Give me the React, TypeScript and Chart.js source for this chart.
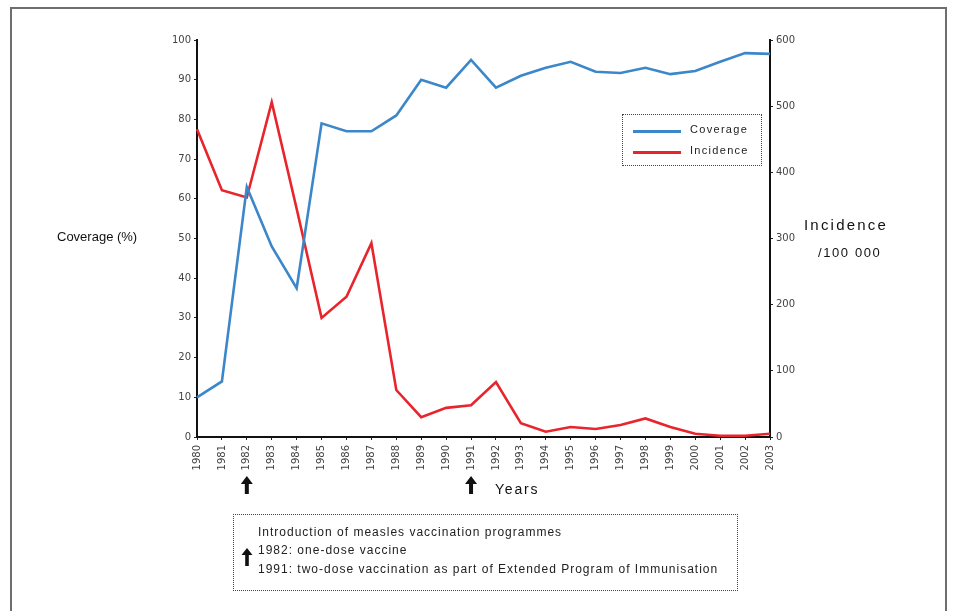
import React, { useEffect, useRef } from "react";
import { Chart, registerables } from "chart.js";

Chart.register(...registerables);

const years = [
  "1980", "1981", "1982", "1983", "1984", "1985", "1986", "1987", "1988", "1989", "1990", "1991",
  "1992", "1993", "1994", "1995", "1996", "1997", "1998", "1999", "2000", "2001", "2002", "2003",
];
const coverage = [10, 14, 63, 48, 37.5, 79, 77, 77, 81, 90, 88, 95, 88, 91, 93, 94.5, 92, 91.7, 93, 91.4, 92.2, 94.5, 96.7, 96.5];
const incidence = [465, 373, 362, 506, 345, 180, 212, 293, 71, 30, 44, 48, 83, 21, 8, 15, 12, 18, 28, 15, 5, 2, 2, 5];
const coverageTicks = [0, 10, 20, 30, 40, 50, 60, 70, 80, 90, 100];
const incidenceTicks = [0, 100, 200, 300, 400, 500, 600];
const arrowYears = ["1982", "1991"];
const seriesNames = ["Coverage", "Incidence"];
const noteLines = [
  "Introduction of measles vaccination programmes",
  "1982: one-dose vaccine",
  "1991: two-dose vaccination as part of Extended Program of Immunisation",
];

const BLUE = "#3b87c9";
const RED = "#e8242c";
const FONT = "'Liberation Sans', Arial, sans-serif";
const TICK_FONT = "'DejaVu Sans', sans-serif";

function drawArrow(ctx: CanvasRenderingContext2D, x: number, top: number) {
  ctx.save();
  ctx.fillStyle = "#111";
  ctx.beginPath();
  ctx.moveTo(x, top);
  ctx.lineTo(x + 6, top + 8);
  ctx.lineTo(x + 2, top + 8);
  ctx.lineTo(x + 2, top + 18);
  ctx.lineTo(x - 2, top + 18);
  ctx.lineTo(x - 2, top + 8);
  ctx.lineTo(x - 6, top + 8);
  ctx.closePath();
  ctx.fill();
  ctx.restore();
}

const arrowPlugin = {
  id: "yearArrows",
  afterDraw(chart: any) {
    const xs = chart.scales.x;
    const ctx = chart.ctx;
    arrowYears.forEach((yr) => {
      const idx = years.indexOf(yr);
      const x = xs.getPixelForValue(idx);
      drawArrow(ctx, x, chart.chartArea.bottom + 39);
    });
  },
};

function ArrowIcon() {
  return (
    <svg width="12" height="18" viewBox="0 0 12 18" style={{ display: "block" }}>
      <path d="M6 0 L11.5 7 L7.8 7 L7.8 18 L4.2 18 L4.2 7 L0.5 7 Z" fill="#111" />
    </svg>
  );
}

export default function App() {
  const canvasRef = useRef<HTMLCanvasElement | null>(null);

  useEffect(() => {
    if (!canvasRef.current) return;
    const tickFont = { family: TICK_FONT, size: 10 };
    const chart = new Chart(canvasRef.current, {
      type: "line",
      data: {
        labels: years,
        datasets: [
          {
            label: seriesNames[0],
            data: coverage,
            borderColor: BLUE,
            backgroundColor: BLUE,
            borderWidth: 2.6,
            pointRadius: 0,
            tension: 0,
            yAxisID: "y",
          },
          {
            label: seriesNames[1],
            data: incidence,
            borderColor: RED,
            backgroundColor: RED,
            borderWidth: 2.6,
            pointRadius: 0,
            tension: 0,
            yAxisID: "y1",
          },
        ],
      },
      options: {
        responsive: false,
        animation: false,
        layout: { padding: { left: 160, right: 153, top: 40, bottom: 124 } },
        plugins: {
          legend: { display: false },
          tooltip: { enabled: false },
        },
        scales: {
          x: {
            offset: false,
            grid: { display: true, drawOnChartArea: false, drawTicks: true, tickLength: 3, color: "#222" },
            border: { display: true, color: "#111", width: 2 },
            ticks: {
              font: tickFont,
              color: "#444",
              minRotation: 90,
              maxRotation: 90,
              autoSkip: false,
              padding: 5,
            },
            afterFit(scale: any) {
              scale.height = 50;
            },
          },
          y: {
            position: "left",
            min: 0,
            max: 100,
            afterBuildTicks(scale: any) {
              scale.ticks = coverageTicks.map((v) => ({ value: v }));
            },
            grid: { display: true, drawOnChartArea: false, tickLength: 3, color: "#222" },
            border: { display: true, color: "#111", width: 2 },
            ticks: { font: tickFont, color: "#444", padding: 3 },
            afterFit(scale: any) {
              scale.width = 37;
            },
          },
          y1: {
            position: "right",
            min: 0,
            max: 600,
            afterBuildTicks(scale: any) {
              scale.ticks = incidenceTicks.map((v) => ({ value: v }));
            },
            grid: { display: true, drawOnChartArea: false, tickLength: 3, color: "#222" },
            border: { display: true, color: "#111", width: 2 },
            ticks: { font: tickFont, color: "#444", padding: 3 },
            afterFit(scale: any) {
              scale.width = 30;
            },
          },
        },
      },
      plugins: [arrowPlugin],
    });
    return () => chart.destroy();
  }, []);

  const titleStyle: React.CSSProperties = {
    position: "absolute",
    fontFamily: FONT,
    fontSize: 13,
    color: "#111",
    whiteSpace: "nowrap",
  };

  const noteStyle: React.CSSProperties = {
    position: "absolute",
    left: 24,
    whiteSpace: "nowrap",
    letterSpacing: 1,
  };

  return (
    <div style={{ position: "fixed", left: 0, top: 0, width: 953, height: 611, background: "#fff", overflow: "hidden" }}>
      <div
        style={{
          position: "absolute",
          left: 10,
          top: 7,
          width: 937,
          height: 640,
          border: "2px solid #6e6e6e",
          boxSizing: "border-box",
        }}
      />
      <canvas ref={canvasRef} width={953} height={611} style={{ position: "absolute", left: 0, top: 0, width: 953, height: 611 }} />
      <div style={{ ...titleStyle, left: 57, top: 229, fontSize: 13 }}>Coverage (%)</div>
      <div style={{ ...titleStyle, left: 804, top: 216, fontSize: 15, letterSpacing: 2.2 }}>Incidence</div>
      <div style={{ ...titleStyle, left: 818, top: 245, letterSpacing: 1.6 }}>/100 000</div>
      <div style={{ ...titleStyle, left: 495, top: 481, fontSize: 14, letterSpacing: 1.8 }}>Years</div>

      <div
        style={{
          position: "absolute",
          left: 622,
          top: 114,
          width: 140,
          height: 52,
          border: "1px dotted #444",
          boxSizing: "border-box",
          fontFamily: FONT,
          fontSize: 11,
          color: "#222",
        }}
      >
        <div style={{ position: "absolute", left: 10, top: 15, width: 48, height: 2.5, background: BLUE }} />
        <div style={{ position: "absolute", left: 67, top: 8, letterSpacing: 1.3 }}>{seriesNames[0]}</div>
        <div style={{ position: "absolute", left: 10, top: 36, width: 48, height: 2.5, background: RED }} />
        <div style={{ position: "absolute", left: 67, top: 29, letterSpacing: 1.3 }}>{seriesNames[1]}</div>
      </div>

      <div
        style={{
          position: "absolute",
          left: 233,
          top: 514,
          width: 505,
          height: 77,
          border: "1px dotted #444",
          boxSizing: "border-box",
          fontFamily: FONT,
          fontSize: 12,
          color: "#222",
        }}
      >
        <div style={{ position: "absolute", left: 7, top: 33 }}>
          <ArrowIcon />
        </div>
        <div style={{ ...noteStyle, top: 10 }}>{noteLines[0]}</div>
        <div style={{ ...noteStyle, top: 28 }}>{noteLines[1]}</div>
        <div style={{ ...noteStyle, top: 47 }}>{noteLines[2]}</div>
      </div>
    </div>
  );
}
